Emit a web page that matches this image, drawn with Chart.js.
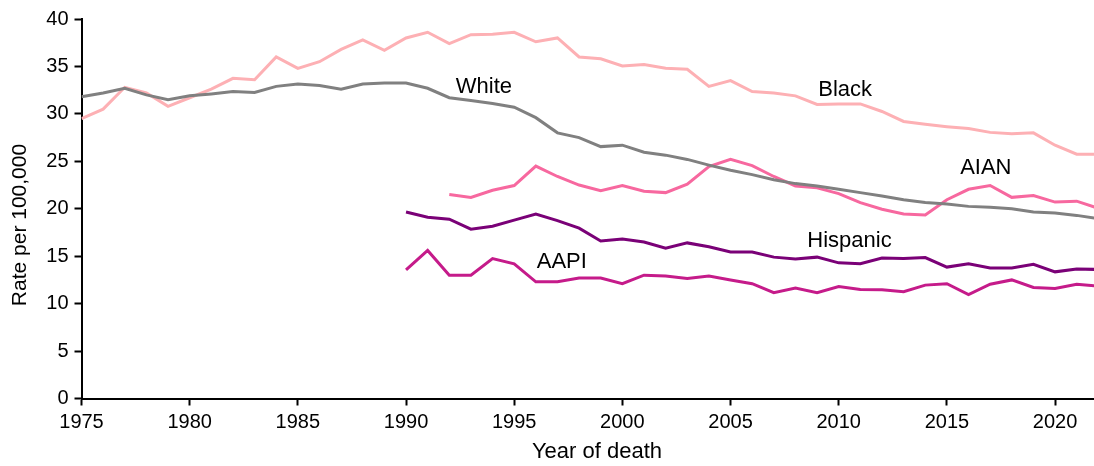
<!DOCTYPE html>
<html>
<head>
<meta charset="utf-8">
<script src="https://cdn.jsdelivr.net/npm/chart.js@4.4.0/dist/chart.umd.min.js"></script>
<style>
html,body{margin:0;padding:0;background:#fff;}
#wrap{width:1094px;height:466px;position:relative;}
</style>
</head>
<body>
<div id="wrap"><canvas id="c" width="1094" height="466"></canvas></div>
<script>
const years = [1975,1976,1977,1978,1979,1980,1981,1982,1983,1984,1985,1986,1987,1988,1989,1990,1991,1992,1993,1994,1995,1996,1997,1998,1999,2000,2001,2002,2003,2004,2005,2006,2007,2008,2009,2010,2011,2012,2013,2014,2015,2016,2017,2018,2019,2020,2021,2022];

const whiteRates = [31.8,32.2,32.7,32.0,31.5,31.9,32.1,32.35,32.25,32.9,
  33.15,33.0,32.6,33.15,33.25,33.25,32.7,31.7,31.4,31.1,
  30.7,29.6,28.0,27.5,26.55,26.7,25.95,25.65,25.2,24.6,
  24.05,23.6,23.05,22.65,22.4,22.05,21.7,21.35,20.95,20.65,
  20.5,20.25,20.15,20.0,19.65,19.55,19.3,18.95];

const blackRates = [29.5,30.5,32.8,32.2,30.8,31.7,32.6,33.75,33.6,36.0,
  34.8,35.5,36.8,37.8,36.7,38.0,38.6,37.4,38.35,38.4,
  38.6,37.6,38.0,36.0,35.8,35.05,35.2,34.8,34.7,32.9,
  33.5,32.35,32.2,31.9,31.0,31.05,31.05,30.25,29.2,28.9,
  28.65,28.45,28.05,27.9,28.0,26.7,25.75,25.75];

const aianRates = [null,null,null,null,null,null,null,null,null,null,
  null,null,null,null,null,null,null,21.5,21.2,21.95,
  22.45,24.5,23.4,22.5,21.9,22.45,21.85,21.7,22.6,24.45,
  25.2,24.55,23.4,22.4,22.2,21.6,20.65,19.95,19.45,19.35,
  20.95,22.05,22.45,21.2,21.4,20.7,20.8,20.05];

const hispanicRates = [null,null,null,null,null,null,null,null,null,null,
  null,null,null,null,null,19.65,19.1,18.9,17.85,18.15,
  18.8,19.45,18.75,17.95,16.6,16.8,16.5,15.85,16.4,16.0,
  15.45,15.45,14.9,14.7,14.9,14.3,14.2,14.8,14.75,14.85,
  13.85,14.2,13.75,13.75,14.15,13.35,13.65,13.6];

const aapiRates = [null,null,null,null,null,null,null,null,null,null,
  null,null,null,null,null,13.55,15.6,13.0,13.0,14.75,
  14.2,12.3,12.3,12.7,12.7,12.1,13.0,12.9,12.65,12.9,
  12.5,12.1,11.15,11.65,11.15,11.8,11.5,11.45,11.25,11.95,
  12.1,10.95,12.05,12.5,11.7,11.6,12.05,11.85];

const yTicks = [0,5,10,15,20,25,30,35,40];
const xTickLabels = [1975,1980,1985,1990,1995,2000,2005,2010,2015,2020];

const seriesNames = ['White','Black','AIAN','Hispanic','AAPI'];
const seriesColors = ['#808080','#fdb0b4','#f7689f','#7a0177','#c51b8a'];
const seriesValues = [whiteRates, blackRates, aianRates, hispanicRates, aapiRates];

// label anchor points in data coordinates
const labelAnchors = [
  {text:'White', x:1993.6, y:32.8},
  {text:'Black', x:2010.3, y:32.5},
  {text:'AIAN', x:2016.8, y:24.3},
  {text:'Hispanic', x:2010.5, y:16.6},
  {text:'AAPI', x:1997.2, y:14.4}
];

const FONT = '"Liberation Sans", Arial, Helvetica, sans-serif';

const toPoints = vals => years.map((yr,i)=>({x:yr, y:vals[i]}));

const textPlugin = {
  id:'textPlugin',
  afterDraw(chart){
    const ctx = chart.ctx;
    const xs = chart.scales.x, ys = chart.scales.y;
    ctx.save();
    ctx.fillStyle = '#000';
    ctx.font = '22px ' + FONT;
    ctx.textAlign = 'center';
    ctx.textBaseline = 'middle';
    labelAnchors.forEach(l=>{
      ctx.fillText(l.text, xs.getPixelForValue(l.x), ys.getPixelForValue(l.y));
    });
    // axis titles
    ctx.font = '22px ' + FONT;
    ctx.fillText('Year of death', 597, 452);
    ctx.font = '21px ' + FONT;
    ctx.translate(20, 225);
    ctx.rotate(-Math.PI/2);
    ctx.fillText('Rate per 100,000', 0, 0);
    ctx.restore();
  }
};

new Chart(document.getElementById('c'), {
  type:'line',
  data:{
    datasets: seriesNames.map((n,i)=>({
      label:n,
      data:toPoints(seriesValues[i]),
      borderColor:seriesColors[i],
      backgroundColor:seriesColors[i],
      borderWidth:3,
      pointRadius:0,
      tension:0,
      spanGaps:false,
      fill:false
    }))
  },
  options:{
    responsive:false,
    animation:false,
    devicePixelRatio:1,
    layout:{padding:{top:19,left:0,right:0,bottom:0}},
    plugins:{legend:{display:false}, tooltip:{enabled:false}, title:{display:false}},
    scales:{
      x:{
        type:'linear',
        min:1975, max:2021.8,
        afterBuildTicks(s){ s.ticks = xTickLabels.map(v=>({value:v})); },
        afterFit(s){ s.height = 67.5; },
        ticks:{stepSize:5, color:'#000', font:{family:FONT,size:20}, padding:5, maxRotation:0, autoSkip:false,
          callback:v=>String(v)},
        grid:{display:true, drawOnChartArea:false, drawTicks:true, tickLength:7, tickWidth:2, color:'#000', tickColor:'#000'},
        border:{display:true, color:'#000', width:2}
      },
      y:{
        min:0, max:40,
        afterBuildTicks(s){ s.ticks = yTicks.map(v=>({value:v})); },
        afterFit(s){ s.width = 81.5; },
        ticks:{stepSize:5, color:'#000', font:{family:FONT,size:20}, padding:6},
        grid:{display:true, drawOnChartArea:false, drawTicks:true, tickLength:7, tickWidth:2, color:'#000', tickColor:'#000'},
        border:{display:true, color:'#000', width:2}
      }
    }
  },
  plugins:[textPlugin]
});
</script>
</body>
</html>
